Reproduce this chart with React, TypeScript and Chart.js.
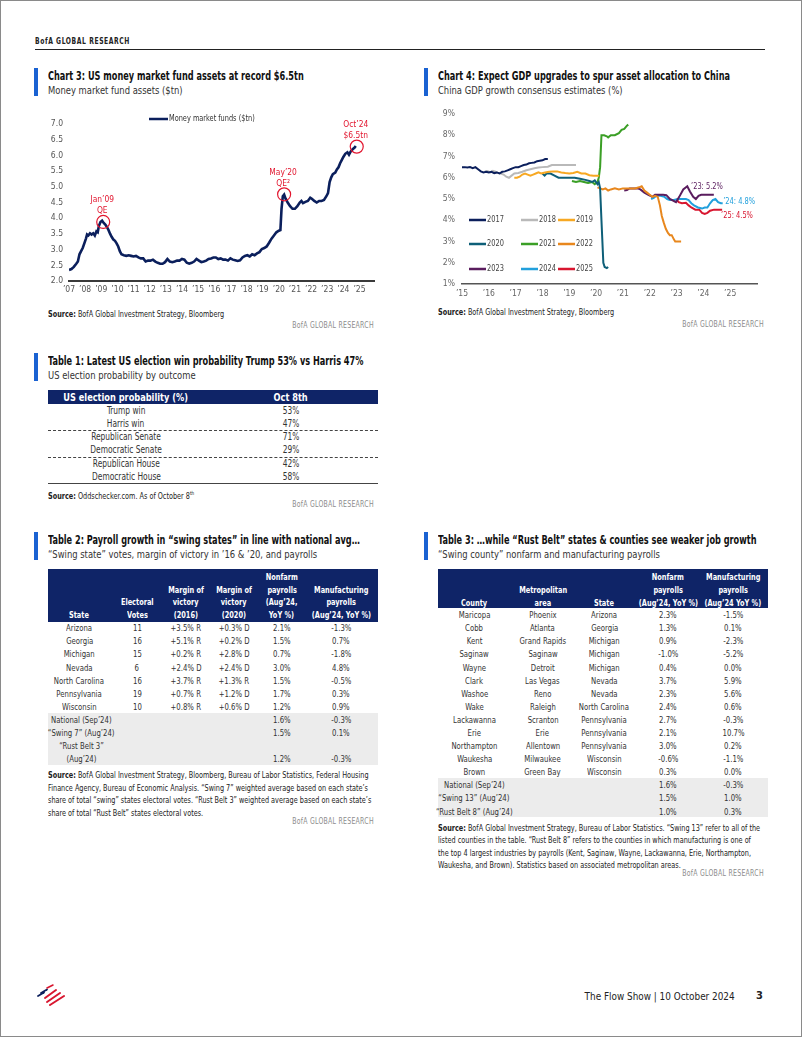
import React, { useEffect, useRef } from "react";
import { Chart, registerables } from "chart.js";
Chart.register(...registerables);

const FONT = "'Liberation Sans Narrow', 'DejaVu Sans Condensed', 'Roboto Condensed', 'Arial Narrow', sans-serif";
const NAVY = "#0b1f5c";
const HEAD = "#0f2467";
const BLUE = "#1a62d2";
const RED = "#e2152e";

// ---------------- Chart 3: money market fund assets ----------------
const mmfDates = [
  2007.0, 2007.15, 2007.3, 2007.45, 2007.55, 2007.65, 2007.75, 2007.85, 2007.95, 2008.05,
  2008.12, 2008.2, 2008.3, 2008.4, 2008.5, 2008.6, 2008.7, 2008.78, 2008.85, 2008.95,
  2009.05, 2009.15, 2009.25, 2009.35, 2009.45, 2009.55, 2009.65, 2009.75, 2009.85, 2009.95,
  2010.05, 2010.15, 2010.25, 2010.4, 2010.55, 2010.7, 2010.85, 2011.0, 2011.15, 2011.3,
  2011.45, 2011.6, 2011.75, 2011.9, 2012.05, 2012.2, 2012.35, 2012.5, 2012.65, 2012.8,
  2012.95, 2013.1, 2013.25, 2013.4, 2013.55, 2013.7, 2013.85, 2014.0, 2014.15, 2014.3,
  2014.45, 2014.6, 2014.75, 2014.9, 2015.05, 2015.2, 2015.35, 2015.5, 2015.65, 2015.8,
  2015.95, 2016.1, 2016.25, 2016.4, 2016.55, 2016.7, 2016.85, 2017.0, 2017.15, 2017.3,
  2017.45, 2017.6, 2017.75, 2017.9, 2018.05, 2018.2, 2018.35, 2018.5, 2018.65, 2018.8,
  2018.95, 2019.1, 2019.25, 2019.4, 2019.55, 2019.7, 2019.85, 2020.0, 2020.1, 2020.17,
  2020.25, 2020.33, 2020.42, 2020.55, 2020.7, 2020.85, 2021.0, 2021.15, 2021.3, 2021.4,
  2021.5, 2021.65, 2021.8, 2021.95, 2022.05, 2022.2, 2022.35, 2022.5, 2022.65, 2022.8,
  2022.95, 2023.05, 2023.15, 2023.25, 2023.35, 2023.5, 2023.6, 2023.7, 2023.8, 2023.9,
  2024.0, 2024.12, 2024.25, 2024.35, 2024.45, 2024.58, 2024.7, 2024.77,
];
const mmfValues = [
  2.35, 2.38, 2.45, 2.55, 2.62, 2.85, 2.95, 3.05, 3.2, 3.35,
  3.48, 3.45, 3.52, 3.48, 3.52, 3.45, 3.58, 3.55, 3.75, 3.88,
  3.92, 3.85, 3.8, 3.72, 3.62, 3.5, 3.4, 3.32, 3.28, 3.2,
  3.1, 2.95, 2.85, 2.82, 2.8, 2.82, 2.8, 2.78, 2.8, 2.75,
  2.72, 2.72, 2.62, 2.65, 2.65, 2.68, 2.62, 2.58, 2.55, 2.55,
  2.6, 2.7, 2.62, 2.6, 2.62, 2.65, 2.65, 2.7, 2.68, 2.58,
  2.55, 2.58, 2.62, 2.7, 2.65, 2.6, 2.62, 2.65, 2.7, 2.72,
  2.75, 2.75, 2.7, 2.72, 2.68, 2.68, 2.65, 2.72, 2.68, 2.66,
  2.64, 2.66, 2.75, 2.8, 2.82, 2.78, 2.85, 2.82, 2.88, 2.92,
  3.02, 3.05, 3.1, 3.22, 3.35, 3.45, 3.55, 3.6, 3.62, 4.3,
  4.7, 4.75, 4.62, 4.5, 4.38, 4.3, 4.3, 4.38, 4.5, 4.55,
  4.48, 4.52, 4.55, 4.65, 4.62, 4.55, 4.5, 4.55, 4.55, 4.58,
  4.7, 4.8, 5.15, 5.3, 5.4, 5.45, 5.55, 5.62, 5.75, 5.85,
  5.95, 6.05, 6.1, 6.02, 6.12, 6.2, 6.25, 6.3,
];
const mmfYears = [2007, 2008, 2009, 2010, 2011, 2012, 2013, 2014, 2015, 2016, 2017, 2018, 2019, 2020, 2021, 2022, 2023, 2024, 2025];
const mmfNoteDates = [2009.12, 2020.33, 2024.83];
const mmfNoteValues = [3.88, 4.76, 6.28];
const mmfNoteTop = ["Jan’09", "May’20", "Oct’24"];
const mmfNoteBottom = ["QE", "QE²", "$6.5tn"];

// ---------------- Chart 4: China GDP consensus ----------------
const gdpYears = [2015, 2016, 2017, 2018, 2019, 2020, 2021, 2022, 2023, 2024, 2025];
const gdpLabels = ["2017", "2018", "2019", "2020", "2021", "2022", "2023", "2024", "2025"];
const gdpColors = ["#0b1f5c", "#b9b9b9", "#f7a823", "#0e5f78", "#3b9f26", "#e8871d", "#5a1d5e", "#22a0dc", "#d8162f"];
const gdp2017 = [[2015.0, 6.5], [2015.1, 6.5], [2015.2, 6.48], [2015.3, 6.5], [2015.4, 6.45], [2015.5, 6.5], [2015.6, 6.4], [2015.7, 6.3], [2015.8, 6.25], [2015.9, 6.28], [2016.0, 6.25], [2016.1, 6.28], [2016.2, 6.22], [2016.3, 6.25], [2016.4, 6.2], [2016.5, 6.28], [2016.6, 6.3], [2016.7, 6.35], [2016.8, 6.4], [2016.9, 6.45], [2017.0, 6.5], [2017.1, 6.5], [2017.2, 6.55], [2017.3, 6.6], [2017.4, 6.62], [2017.5, 6.68], [2017.6, 6.7], [2017.7, 6.72], [2017.8, 6.78], [2017.9, 6.8], [2018.0, 6.82], [2018.1, 6.88], [2018.2, 6.88]];
const gdp2018 = [[2015.85, 6.3], [2015.95, 6.32], [2016.05, 6.25], [2016.15, 6.32], [2016.25, 6.28], [2016.35, 6.22], [2016.45, 6.2], [2016.55, 6.15], [2016.65, 6.05], [2016.75, 6.0], [2016.85, 6.1], [2016.95, 6.2], [2017.1, 6.22], [2017.25, 6.28], [2017.4, 6.35], [2017.55, 6.4], [2017.7, 6.45], [2017.85, 6.48], [2018.0, 6.5], [2018.2, 6.52], [2018.35, 6.6], [2018.5, 6.6], [2018.7, 6.6], [2018.9, 6.6], [2019.1, 6.6], [2019.25, 6.6]];
const gdp2019 = [[2016.95, 6.0], [2017.05, 6.0], [2017.15, 6.05], [2017.25, 6.15], [2017.35, 6.2], [2017.45, 6.15], [2017.55, 6.1], [2017.65, 6.15], [2017.75, 6.2], [2017.85, 6.25], [2017.95, 6.2], [2018.1, 6.25], [2018.25, 6.28], [2018.4, 6.3], [2018.55, 6.3], [2018.7, 6.25], [2018.85, 6.22], [2019.0, 6.2], [2019.15, 6.22], [2019.3, 6.28], [2019.45, 6.2], [2019.6, 6.2], [2019.75, 6.12], [2019.9, 6.1], [2020.0, 6.1], [2020.12, 6.1]];
const gdp2020 = [[2018.0, 6.2], [2018.08, 6.1], [2018.15, 6.2], [2018.3, 6.2], [2018.45, 6.1], [2018.6, 6.0], [2018.8, 6.0], [2019.0, 6.0], [2019.2, 6.0], [2019.4, 5.95], [2019.6, 5.9], [2019.75, 5.85], [2019.85, 5.8], [2019.95, 5.88], [2020.05, 5.7], [2020.1, 5.8], [2020.15, 5.5], [2020.2, 4.0], [2020.27, 2.0], [2020.32, 1.8], [2020.4, 1.75], [2020.45, 1.8]];
const gdp2021 = [[2019.1, 5.85], [2019.25, 5.8], [2019.4, 5.85], [2019.55, 5.8], [2019.7, 5.75], [2019.85, 5.8], [2019.95, 5.7], [2020.05, 5.8], [2020.1, 6.0], [2020.15, 6.5], [2020.2, 8.0], [2020.3, 8.0], [2020.4, 7.95], [2020.45, 7.9], [2020.55, 8.0], [2020.7, 8.0], [2020.85, 8.1], [2020.95, 8.25], [2021.05, 8.3], [2021.15, 8.45], [2021.2, 8.5]];
const gdp2022 = [[2020.05, 5.55], [2020.15, 5.5], [2020.25, 5.45], [2020.35, 5.5], [2020.45, 5.4], [2020.55, 5.45], [2020.7, 5.5], [2020.85, 5.45], [2021.0, 5.5], [2021.15, 5.5], [2021.3, 5.5], [2021.45, 5.5], [2021.6, 5.55], [2021.7, 5.6], [2021.8, 5.4], [2021.9, 5.3], [2022.0, 5.2], [2022.1, 5.1], [2022.2, 5.15], [2022.3, 5.1], [2022.38, 4.7], [2022.45, 4.2], [2022.52, 3.9], [2022.6, 3.6], [2022.68, 3.4], [2022.75, 3.3], [2022.82, 3.3], [2022.9, 3.1], [2022.95, 3.0], [2023.17, 3.0]];
const gdp2023 = [[2021.05, 5.4], [2021.15, 5.42], [2021.25, 5.5], [2021.4, 5.5], [2021.55, 5.5], [2021.65, 5.45], [2021.8, 5.3], [2021.95, 5.2], [2022.1, 5.1], [2022.2, 5.2], [2022.35, 5.2], [2022.5, 5.2], [2022.62, 5.18], [2022.75, 5.0], [2022.98, 4.85], [2023.1, 5.1], [2023.25, 5.45], [2023.4, 5.6], [2023.5, 5.35], [2023.62, 5.1], [2023.72, 5.0], [2023.82, 5.15], [2023.92, 5.2], [2024.1, 5.2], [2024.25, 5.2], [2024.39, 5.2]];
const gdp2024 = [[2022.05, 5.0], [2022.15, 5.05], [2022.25, 5.15], [2022.4, 5.15], [2022.55, 5.1], [2022.65, 5.0], [2022.75, 4.95], [2022.9, 4.95], [2023.05, 5.0], [2023.2, 5.0], [2023.35, 5.0], [2023.45, 4.95], [2023.55, 4.8], [2023.65, 4.7], [2023.8, 4.6], [2023.95, 4.55], [2024.05, 4.6], [2024.15, 4.6], [2024.25, 4.8], [2024.35, 4.95], [2024.45, 5.0], [2024.55, 4.85], [2024.65, 4.8], [2024.72, 4.8]];
const gdp2025 = [[2022.98, 5.0], [2023.08, 4.85], [2023.2, 4.8], [2023.35, 4.82], [2023.45, 4.7], [2023.55, 4.6], [2023.7, 4.5], [2023.85, 4.5], [2023.95, 4.35], [2024.05, 4.3], [2024.15, 4.35], [2024.25, 4.45], [2024.4, 4.5], [2024.55, 4.5], [2024.7, 4.5]];
const gdpSeries = [gdp2017, gdp2018, gdp2019, gdp2020, gdp2021, gdp2022, gdp2023, gdp2024, gdp2025];
const gdpNoteText = ["’23: 5.2%", "’24: 4.8%", "’25: 4.5%"];
const gdpNoteX = [2023.54, 2024.74, 2024.66];
const gdpNoteY = [5.58, 4.87, 4.21];
const gdpNoteColor = ["#5a1d5e", "#22a0dc", "#d8162f"];

// ---------------- Tables ----------------
const t1Labels = ["Trump win", "Harris win", "Republican Senate", "Democratic Senate", "Republican House", "Democratic House"];
const t1Values = ["53%", "47%", "71%", "29%", "42%", "58%"];

const t2Header = [["State"], ["Electoral", "Votes"], ["Margin of", "victory", "(2016)"], ["Margin of", "victory", "(2020)"], ["Nonfarm", "payrolls", "(Aug’24,", "YoY %)"], ["Manufacturing", "payrolls", "(Aug’24, YoY %)"]];
const t2States = ["Arizona", "Georgia", "Michigan", "Nevada", "North Carolina", "Pennsylvania", "Wisconsin"];
const t2Votes = ["11", "16", "15", "6", "16", "19", "10"];
const t2Margin16 = ["+3.5% R", "+5.1% R", "+0.2% R", "+2.4% D", "+3.7% R", "+0.7% R", "+0.8% R"];
const t2Margin20 = ["+0.3% D", "+0.2% D", "+2.8% D", "+2.4% D", "+1.3% R", "+1.2% D", "+0.6% D"];
const t2Nonfarm = ["2.1%", "1.5%", "0.7%", "3.0%", "1.5%", "1.7%", "1.2%"];
const t2Mfg = ["-1.3%", "0.7%", "-1.8%", "4.8%", "-0.5%", "0.3%", "0.9%"];
const t2SumNonfarm = ["1.6%", "1.5%", "1.2%"];
const t2SumMfg = ["-0.3%", "0.1%", "-0.3%"];

const t3Header = [["County"], ["Metropolitan", "area"], ["State"], ["Nonfarm", "payrolls", "(Aug’24, YoY %)"], ["Manufacturing", "payrolls", "(Aug’24 YoY %)"]];
const t3County = ["Maricopa", "Cobb", "Kent", "Saginaw", "Wayne", "Clark", "Washoe", "Wake", "Lackawanna", "Erie", "Northampton", "Waukesha", "Brown"];
const t3Metro = ["Phoenix", "Atlanta", "Grand Rapids", "Saginaw", "Detroit", "Las Vegas", "Reno", "Raleigh", "Scranton", "Erie", "Allentown", "Milwaukee", "Green Bay"];
const t3State = ["Arizona", "Georgia", "Michigan", "Michigan", "Michigan", "Nevada", "Nevada", "North Carolina", "Pennsylvania", "Pennsylvania", "Pennsylvania", "Wisconsin", "Wisconsin"];
const t3Nonfarm = ["2.3%", "1.3%", "0.9%", "-1.0%", "0.4%", "3.7%", "2.3%", "2.4%", "2.7%", "2.1%", "3.0%", "-0.6%", "0.3%"];
const t3Mfg = ["-1.5%", "0.1%", "-2.3%", "-5.2%", "0.0%", "5.9%", "5.6%", "0.6%", "-0.3%", "10.7%", "0.2%", "-1.1%", "0.0%"];
const t3SumLabels = ["National (Sep’24)", "“Swing 13” (Aug’24)", "“Rust Belt 8” (Aug’24)"];
const t3SumNonfarm = ["1.6%", "1.5%", "1.0%"];
const t3SumMfg = ["-0.3%", "1.0%", "0.3%"];

const yr = (v: number) => "’" + String(v).slice(2);

function drawSq(ctx: any, text: string, x: number, y: number, k: number, align: string) {
  ctx.save();
  ctx.translate(x, y);
  ctx.scale(k, 1);
  ctx.textAlign = align;
  ctx.fillText(text, 0, 0);
  ctx.restore();
}

function MoneyChart() {
  const ref = useRef<HTMLCanvasElement>(null);
  useEffect(() => {
    const notes = {
      id: "mmfNotes",
      afterDatasetsDraw(chart: any) {
        const { ctx, scales, chartArea } = chart;
        const x = scales.x, y = scales.y;
        ctx.save();
        const ds = chart.data.datasets[0];
        const lx = chartArea.left + 80, ly = chartArea.top - 5;
        ctx.strokeStyle = ds.borderColor; ctx.lineWidth = 2.5;
        ctx.beginPath(); ctx.moveTo(lx, ly); ctx.lineTo(lx + 19, ly); ctx.stroke();
        ctx.fillStyle = "#333"; ctx.font = `8.5px ${FONT}`; ctx.textBaseline = "middle";
        drawSq(ctx, ds.label, lx + 20, ly, 0.86, "left");
        ctx.strokeStyle = RED; ctx.fillStyle = RED; ctx.lineWidth = 1.2;
        ctx.font = `9.5px ${FONT}`;
        mmfNoteDates.forEach((d, i) => {
          const px = x.getPixelForValue(d), py = y.getPixelForValue(mmfNoteValues[i]);
          ctx.beginPath(); ctx.arc(px, py, 6.5, 0, Math.PI * 2); ctx.stroke();
          drawSq(ctx, mmfNoteTop[i], px - 1, py - 22, 0.88, "center");
          drawSq(ctx, mmfNoteBottom[i], px - 1, py - 11, 0.88, "center");
        });
        ctx.restore();
      },
    };
    const chart = new Chart(ref.current as HTMLCanvasElement, {
      type: "line",
      data: {
        datasets: [{
          label: "Money market funds ($tn)",
          data: mmfDates.map((d, i) => ({ x: d, y: mmfValues[i] })),
          borderColor: NAVY, borderWidth: 2.6, pointRadius: 0, tension: 0, fill: false,
        }],
      },
      options: {
        responsive: false, animation: false, events: [],
        layout: { padding: { top: 18, right: 12, left: 0, bottom: 0 } },
        plugins: { legend: { display: false }, tooltip: { enabled: false } },
        scales: {
          x: {
            type: "linear", min: 2007, max: 2025.9,
            afterBuildTicks: (s: any) => { s.ticks = mmfYears.map((v) => ({ value: v })); },
            afterFit: (s: any) => { s.height = 20; },
            grid: { display: false, drawTicks: false },
            border: { display: true, color: "#3a3a3a", width: 2 },
            ticks: { callback: (v: any) => yr(v), padding: 4, color: "#555", font: { family: FONT, size: 8.5 }, maxRotation: 0, autoSkip: false },
          },
          y: {
            min: 2, max: 7,
            afterBuildTicks: (s: any) => { s.ticks = [2, 2.5, 3, 3.5, 4, 4.5, 5, 5.5, 6, 6.5, 7].map((v) => ({ value: v })); },
            afterFit: (s: any) => { s.width = 38; },
            grid: { display: false, drawTicks: false },
            border: { display: false },
            ticks: { callback: (v: any) => Number(v).toFixed(1), padding: 6, color: "#555", font: { family: FONT, size: 8.5 } },
          },
        },
      },
      plugins: [notes],
    } as any);
    return () => chart.destroy();
  }, []);
  return <canvas ref={ref} width={355} height={195} style={{ position: "absolute", left: 30, top: 105, width: 355, height: 195 }} />;
}

function GdpChart() {
  const ref = useRef<HTMLCanvasElement>(null);
  useEffect(() => {
    const extras = {
      id: "gdpExtras",
      afterDatasetsDraw(chart: any) {
        const { ctx, scales, chartArea } = chart;
        ctx.save();
        const colX = [7, 59, 96];
        const rowY = [106, 130, 155];
        ctx.font = `9px ${FONT}`; ctx.textBaseline = "middle";
        chart.data.datasets.forEach((ds: any, i: number) => {
          const lx = chartArea.left + colX[i % 3];
          const ly = chartArea.top + rowY[Math.floor(i / 3)];
          ctx.strokeStyle = ds.borderColor; ctx.lineWidth = 2.5;
          ctx.beginPath(); ctx.moveTo(lx, ly); ctx.lineTo(lx + 17, ly); ctx.stroke();
          ctx.fillStyle = "#444";
          drawSq(ctx, ds.label, lx + 18, ly, 0.82, "left");
        });
        ctx.font = `9.5px ${FONT}`;
        gdpNoteText.forEach((t, i) => {
          ctx.fillStyle = gdpNoteColor[i];
          drawSq(ctx, t, scales.x.getPixelForValue(gdpNoteX[i]), scales.y.getPixelForValue(gdpNoteY[i]), 0.78, "left");
        });
        ctx.restore();
      },
    };
    const chart = new Chart(ref.current as HTMLCanvasElement, {
      type: "line",
      data: {
        datasets: gdpSeries.map((s, i) => ({
          label: gdpLabels[i],
          data: s.map((p) => ({ x: p[0], y: p[1] })),
          borderColor: gdpColors[i], borderWidth: 2, pointRadius: 0, tension: 0, fill: false,
        })),
      },
      options: {
        responsive: false, animation: false, events: [],
        layout: { padding: { top: 13, right: 29, left: 0, bottom: 0 } },
        plugins: { legend: { display: false }, tooltip: { enabled: false } },
        scales: {
          x: {
            type: "linear", min: 2015, max: 2026,
            afterBuildTicks: (s: any) => { s.ticks = gdpYears.map((v) => ({ value: v })); },
            afterFit: (s: any) => { s.height = 22; },
            grid: { display: false, drawTicks: false },
            border: { display: true, color: "#555", width: 1.5 },
            ticks: { callback: (v: any) => yr(v), padding: 5, color: "#666", font: { family: FONT, size: 8.5 }, maxRotation: 0, autoSkip: false },
          },
          y: {
            min: 1, max: 9,
            afterBuildTicks: (s: any) => { s.ticks = [1, 2, 3, 4, 5, 6, 7, 8, 9].map((v) => ({ value: v })); },
            afterFit: (s: any) => { s.width = 41; },
            grid: { display: false, drawTicks: false },
            border: { display: false },
            ticks: { callback: (v: any) => v + "%", padding: 7, color: "#666", font: { family: FONT, size: 8.5 } },
          },
        },
      },
      plugins: [extras],
    } as any);
    return () => chart.destroy();
  }, []);
  return <canvas ref={ref} width={365} height={205} style={{ position: "absolute", left: 420, top: 100, width: 365, height: 205 }} />;
}

function Sq({ k, origin, children }: any) {
  return <span style={{ display: "inline-block", transform: `scaleX(${k})`, transformOrigin: origin }}>{children}</span>;
}

function Heading({ x, top, title, sub }: { x: number; top: number; title: string; sub: string }) {
  return (
    <>
      <div style={{ position: "absolute", left: x - 14, top, width: 4, height: 28, background: BLUE }} />
      <div style={{ position: "absolute", left: x, top: top + 1, fontSize: 11.5, fontWeight: 700, lineHeight: "14px", whiteSpace: "nowrap", color: "#111" }}><Sq k={0.79} origin="left center">{title}</Sq></div>
      <div style={{ position: "absolute", left: x, top: top + 14.5, fontSize: 10.5, lineHeight: "14px", whiteSpace: "nowrap", color: "#333" }}><Sq k={0.89} origin="left center">{sub}</Sq></div>
    </>
  );
}

function T({ x, y, children, size = 9.5, weight = 400, color = "#333", w = 160, k = 0.81 }: any) {
  return (
    <div style={{ position: "absolute", left: x - w / 2, top: y - 7, width: w, height: 14, lineHeight: "14px", textAlign: "center", fontSize: size, fontWeight: weight, color, whiteSpace: "nowrap" }}><Sq k={k} origin="center center">{children}</Sq></div>
  );
}

function Brand({ right, y }: { right: number; y: number }) {
  return <div style={{ position: "absolute", left: right - 200, width: 200, top: y - 6, lineHeight: "12px", textAlign: "right", fontSize: 8, color: "#8c8c8c", letterSpacing: 0.3, whiteSpace: "nowrap" }}><Sq k={0.86} origin="right center">BofA GLOBAL RESEARCH</Sq></div>;
}

function Source({ x, top, lines }: { x: number; top: number; lines: string[] }) {
  return (
    <div style={{ position: "absolute", left: x, top, fontSize: 8.5, lineHeight: "12.5px", color: "#222", whiteSpace: "nowrap" }}>
      {lines.map((l, i) => (
        <div key={i}><Sq k={0.85} origin="left center">{i === 0 ? <><b>Source:</b>{l}</> : l}</Sq></div>
      ))}
    </div>
  );
}

function HeaderCells({ cols, centers, lastY, step }: { cols: string[][]; centers: number[]; lastY: number; step: number }) {
  const out: any[] = [];
  cols.forEach((lines, c) => {
    lines.forEach((t, k) => {
      const y = lastY - (lines.length - 1 - k) * step;
      out.push(<T key={c + "-" + k} x={centers[c]} y={y} size={9.5} weight={700} color="#fff" k={0.77}>{t}</T>);
    });
  });
  return <>{out}</>;
}

export default function App() {
  const t1Rows = [409.5, 422.5, 436, 449, 462.5, 475.5];
  const t2C = [78.3, 136, 185, 232.7, 280.7, 340];
  const t3C = [473.3, 541.7, 603.3, 667.3, 732.3];
  return (
    <div style={{ position: "absolute", left: 0, top: 0, width: 802, height: 1037, background: "#fff", border: "1px solid #8a8a8a", boxSizing: "border-box", overflow: "hidden", fontFamily: FONT, color: "#222" }}>
      {/* page header */}
      <div style={{ position: "absolute", left: 34, top: 35, fontSize: 8, lineHeight: "12px", letterSpacing: 0.7, color: "#222", fontWeight: 700, whiteSpace: "nowrap" }}><Sq k={0.84} origin="left center">BofA GLOBAL RESEARCH</Sq></div>
      <div style={{ position: "absolute", left: 34, top: 47.5, width: 730, height: 1.5, background: "#222" }} />

      {/* Chart 3 */}
      <Heading x={47} top={67} title="Chart 3: US money market fund assets at record $6.5tn" sub="Money market fund assets ($tn)" />
      <MoneyChart />
      <Source x={47} top={307} lines={[" BofA Global Investment Strategy, Bloomberg"]} />
      <Brand right={373} y={325} />

      {/* Chart 4 */}
      <Heading x={437} top={67} title="Chart 4: Expect GDP upgrades to spur asset allocation to China" sub="China GDP growth consensus estimates (%)" />
      <GdpChart />
      <Source x={437} top={305} lines={[" BofA Global Investment Strategy, Bloomberg"]} />
      <Brand right={763} y={323.5} />

      {/* Table 1 */}
      <Heading x={47} top={352} title="Table 1: Latest US election win probability Trump 53% vs Harris 47%" sub="US election probability by outcome" />
      <div style={{ position: "absolute", left: 47, top: 389, width: 330, height: 13.5, background: HEAD }} />
      <T x={125} y={395.8} size={10.5} weight={700} color="#fff" k={0.87}>US election probability (%)</T>
      <T x={290} y={395.8} size={10.5} weight={700} color="#fff" k={0.87}>Oct 8th</T>
      {t1Labels.map((l, i) => <T key={"a" + i} x={125} y={t1Rows[i]} size={10} k={0.83}>{l}</T>)}
      {t1Values.map((v, i) => <T key={"b" + i} x={290} y={t1Rows[i]} size={10} k={0.83}>{v}</T>)}
      <div style={{ position: "absolute", left: 47, top: 429, width: 330, height: 0, borderTop: "1px dashed #444" }} />
      <div style={{ position: "absolute", left: 47, top: 455.5, width: 330, height: 0, borderTop: "1px dashed #444" }} />
      <div style={{ position: "absolute", left: 47, top: 481.5, width: 330, height: 1, background: "#444" }} />
      <div style={{ position: "absolute", left: 47, top: 486, fontSize: 8.5, lineHeight: "12px", color: "#222", whiteSpace: "nowrap" }}>
        <Sq k={0.85} origin="left center"><b>Source:</b> Oddschecker.com. As of October 8<sup style={{ fontSize: 5.5 }}>th</sup></Sq>
      </div>
      <Brand right={373} y={504} />

      {/* Table 2 */}
      <Heading x={47} top={531} title="Table 2: Payroll growth in “swing states” in line with national avg…" sub="“Swing state” votes, margin of victory in ’16 & ’20, and payrolls" />
      <div style={{ position: "absolute", left: 47.3, top: 568.3, width: 329.4, height: 52.4, background: HEAD }} />
      <HeaderCells cols={t2Header} centers={t2C} lastY={614.3} step={12.9} />
      {t2States.map((s, i) => {
        const y = 627 + i * 13.17;
        return (
          <React.Fragment key={"r2" + i}>
            <T x={t2C[0]} y={y}>{s}</T>
            <T x={t2C[1]} y={y}>{t2Votes[i]}</T>
            <T x={t2C[2]} y={y}>{t2Margin16[i]}</T>
            <T x={t2C[3]} y={y}>{t2Margin20[i]}</T>
            <T x={t2C[4]} y={y}>{t2Nonfarm[i]}</T>
            <T x={t2C[5]} y={y}>{t2Mfg[i]}</T>
          </React.Fragment>
        );
      })}
      <div style={{ position: "absolute", left: 47.3, top: 712.3, width: 329.4, height: 52, background: "#ececec" }} />
      <T x={80.5} y={719}>National (Sep’24)</T>
      <T x={80.5} y={731.7}>“Swing 7” (Aug’24)</T>
      <T x={80.5} y={745}>“Rust Belt 3”</T>
      <T x={80.5} y={758.3}>(Aug’24)</T>
      {[719, 731.7, 758.3].map((y, i) => (
        <React.Fragment key={"s2" + i}>
          <T x={t2C[4]} y={y}>{t2SumNonfarm[i]}</T>
          <T x={t2C[5]} y={y}>{t2SumMfg[i]}</T>
        </React.Fragment>
      ))}
      <Source x={47} top={768} lines={[
        " BofA Global Investment Strategy, Bloomberg, Bureau of Labor Statistics, Federal Housing",
        "Finance Agency, Bureau of Economic Analysis. “Swing 7” weighted average based on each state’s",
        "share of total “swing” states electoral votes. “Rust Belt 3” weighted average based on each state’s",
        "share of total “Rust Belt” states electoral votes.",
      ]} />
      <Brand right={373} y={820.7} />

      {/* Table 3 */}
      <Heading x={437} top={531} title="Table 3: …while “Rust Belt” states & counties see weaker job growth" sub="“Swing county” nonfarm and manufacturing payrolls" />
      <div style={{ position: "absolute", left: 437.3, top: 568.3, width: 329.4, height: 38.4, background: HEAD }} />
      <HeaderCells cols={t3Header} centers={t3C} lastY={601.7} step={12.9} />
      {t3County.map((c, i) => {
        const y = 614.3 + i * 13.06;
        return (
          <React.Fragment key={"r3" + i}>
            <T x={t3C[0]} y={y}>{c}</T>
            <T x={t3C[1]} y={y}>{t3Metro[i]}</T>
            <T x={t3C[2]} y={y}>{t3State[i]}</T>
            <T x={t3C[3]} y={y}>{t3Nonfarm[i]}</T>
            <T x={t3C[4]} y={y}>{t3Mfg[i]}</T>
          </React.Fragment>
        );
      })}
      <div style={{ position: "absolute", left: 437.3, top: 777.3, width: 329.4, height: 38.7, background: "#ececec" }} />
      {t3SumLabels.map((l, i) => {
        const y = 784 + i * 13.35;
        return (
          <React.Fragment key={"s3" + i}>
            <T x={473.3} y={y}>{l}</T>
            <T x={t3C[3]} y={y}>{t3SumNonfarm[i]}</T>
            <T x={t3C[4]} y={y}>{t3SumMfg[i]}</T>
          </React.Fragment>
        );
      })}
      <Source x={437} top={820.5} lines={[
        " BofA Global Investment Strategy, Bureau of Labor Statistics. “Swing 13” refer to all of the",
        "listed counties in the table. “Rust Belt 8” refers to the counties in which manufacturing is one of",
        "the top 4 largest industries by payrolls (Kent, Saginaw, Wayne, Lackawanna, Erie, Northampton,",
        "Waukesha, and Brown). Statistics based on associated metropolitan areas.",
      ]} />
      <Brand right={763} y={873.3} />

      {/* footer */}
      <svg style={{ position: "absolute", left: 34, top: 983 }} width={34} height={22} viewBox="0 0 34 22">
        <g strokeLinecap="round">
          <line x1="6" y1="9" x2="12" y2="5.5" stroke="#0b1f5c" strokeWidth="1.8" />
          <line x1="3" y1="12" x2="9" y2="8.5" stroke="#0b1f5c" strokeWidth="1.8" />
          <line x1="12" y1="4" x2="18" y2="1" stroke="#d8162f" strokeWidth="1.6" />
          <line x1="10" y1="14" x2="21" y2="6" stroke="#d8162f" strokeWidth="2" />
          <line x1="12" y1="18" x2="25" y2="9" stroke="#d8162f" strokeWidth="2" />
          <line x1="15" y1="21" x2="29" y2="12" stroke="#d8162f" strokeWidth="2" />
        </g>
      </svg>
      <div style={{ position: "absolute", left: 434, width: 300, top: 988, lineHeight: "14px", textAlign: "right", fontSize: 10.5, color: "#222", whiteSpace: "nowrap" }}><Sq k={0.94} origin="right center">The Flow Show | 10 October 2024</Sq></div>
      <div style={{ position: "absolute", left: 755, top: 988, lineHeight: "14px", fontSize: 11, fontWeight: 700, color: "#222" }}>3</div>
    </div>
  );
}
